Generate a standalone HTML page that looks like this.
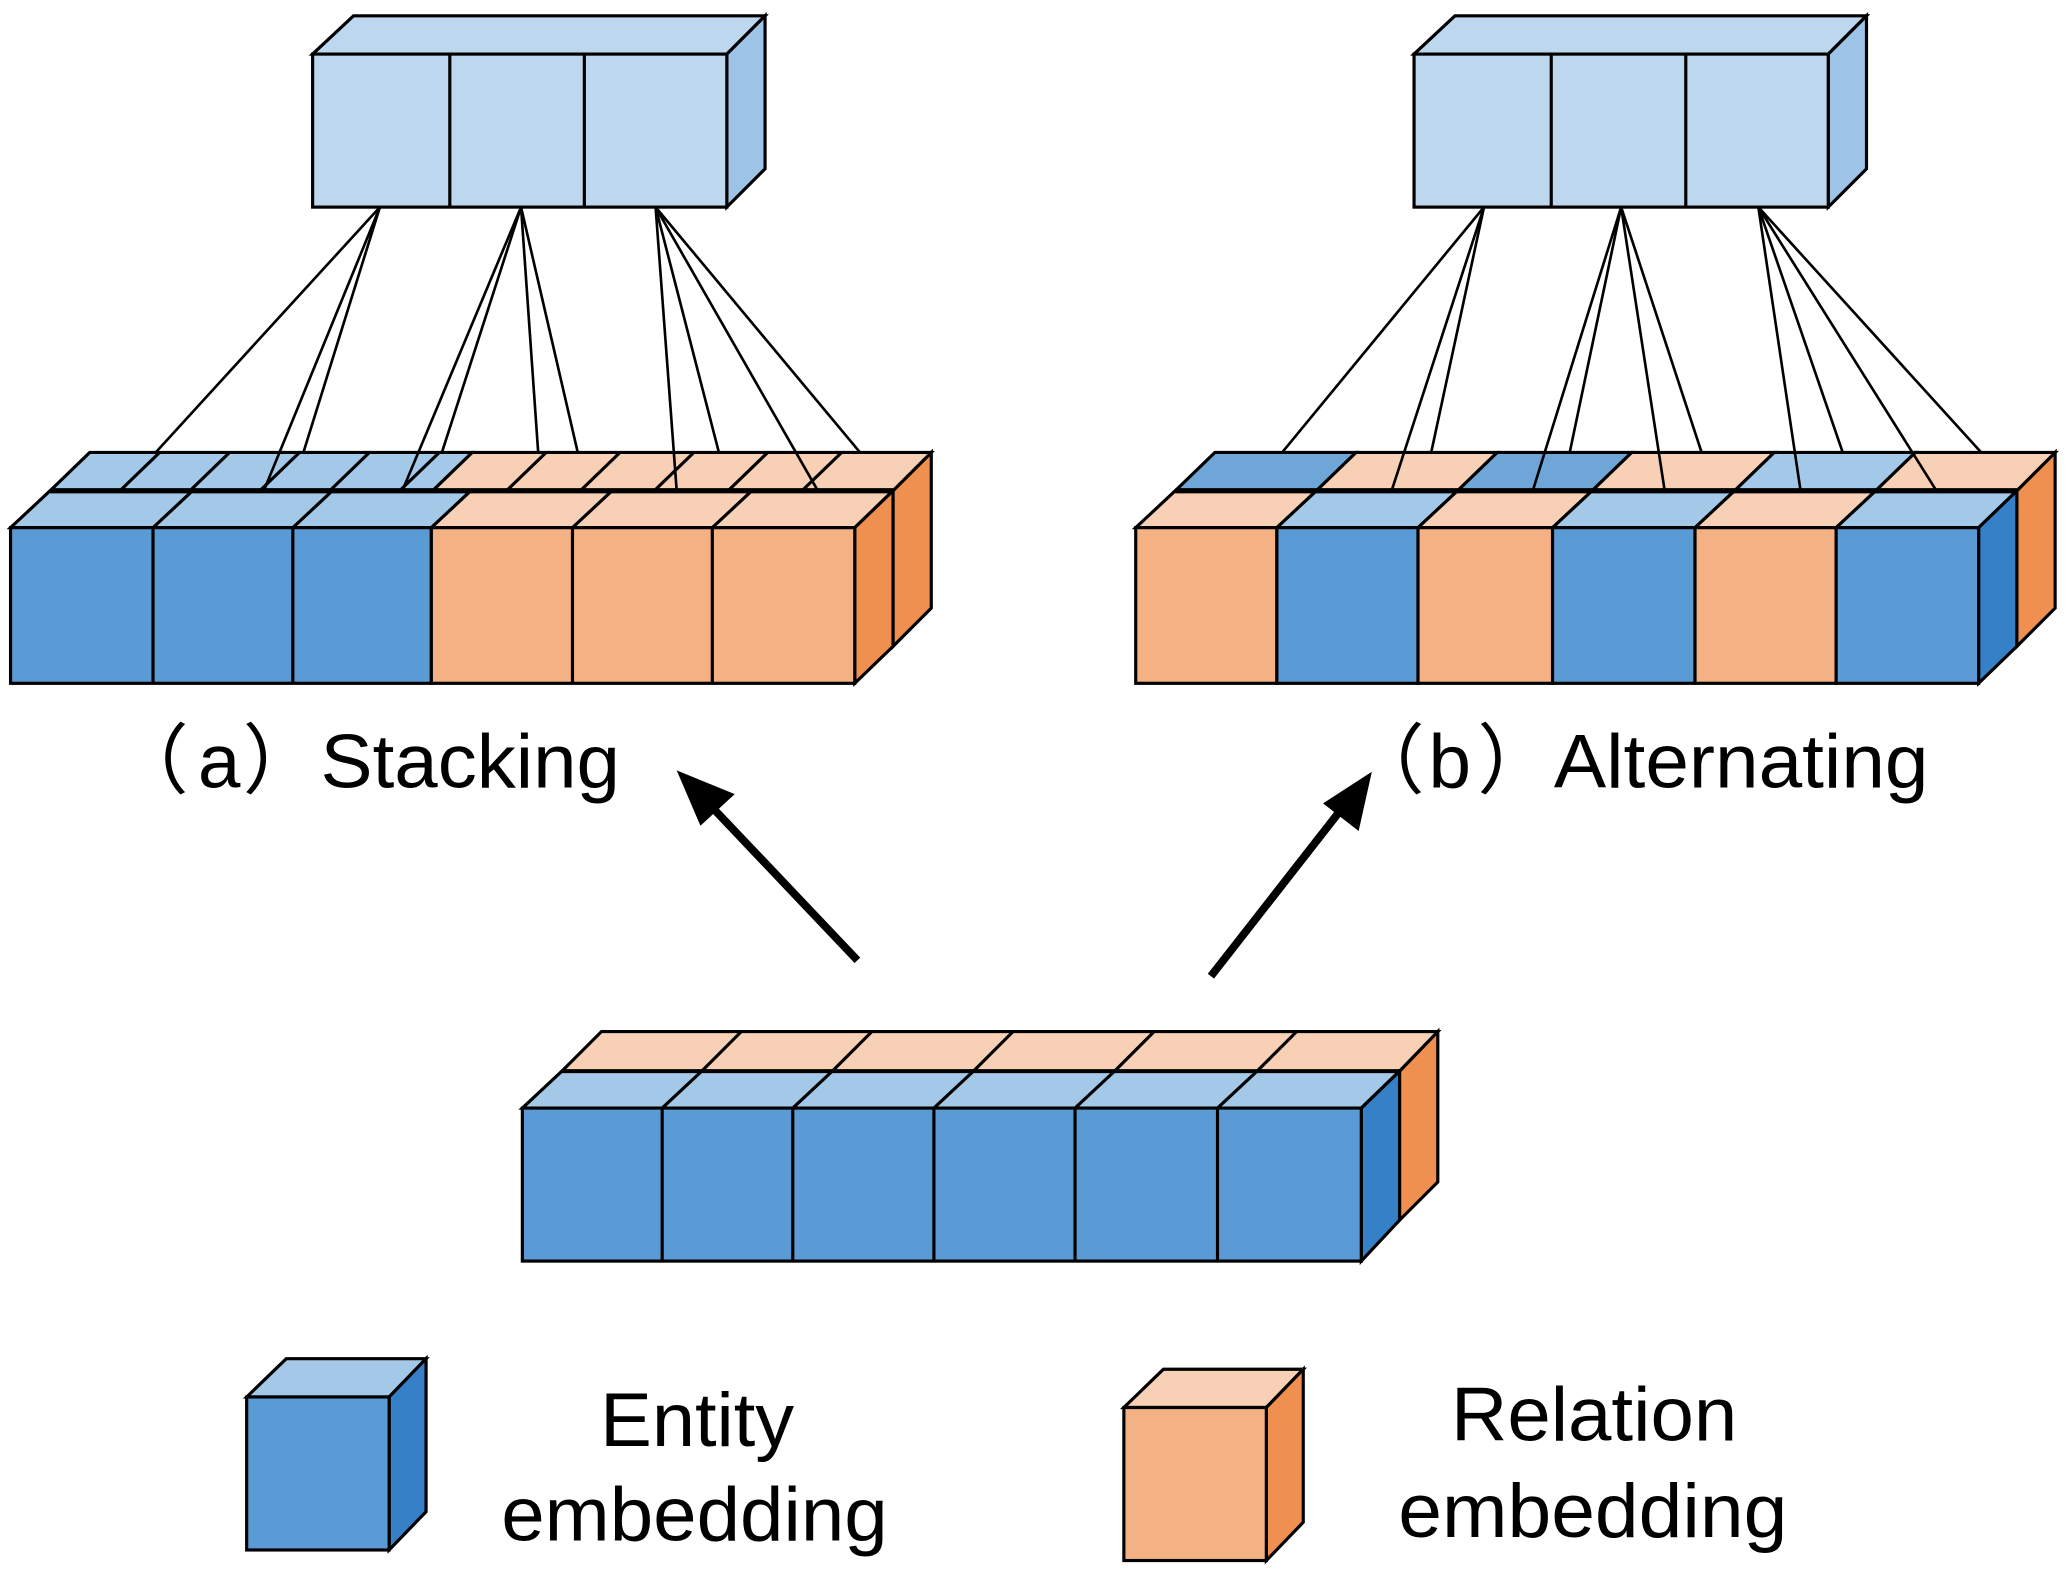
<!DOCTYPE html>
<html><head><meta charset="utf-8"><style>
html,body{margin:0;padding:0;background:#fff;}
svg{display:block;}
text{font-family:"Liberation Sans","Noto Sans CJK SC",sans-serif;fill:#000;}
</style></head><body>
<svg width="2067" height="1579" viewBox="0 0 1567 1197" preserveAspectRatio="none" xmlns="http://www.w3.org/2000/svg">
<g stroke="#000" stroke-width="2.4" stroke-linejoin="miter">
<polygon points="237,41 268,12 580,12 551,41" fill="#bdd7ee"/>
<polygon points="551,41 580,12 580,128 551,157" fill="#9dc3e6"/>
<rect x="237" y="41" width="314" height="116" fill="#bdd7ee"/>
<line x1="341" y1="41" x2="341" y2="157"/><line x1="443" y1="41" x2="443" y2="157"/>
<polygon points="1072,41 1103,12 1415,12 1386,41" fill="#bdd7ee"/>
<polygon points="1386,41 1415,12 1415,128 1386,157" fill="#9dc3e6"/>
<rect x="1072" y="41" width="314" height="116" fill="#bdd7ee"/>
<line x1="1176" y1="41" x2="1176" y2="157"/><line x1="1278" y1="41" x2="1278" y2="157"/>

<polygon points="677,372 706,343 706,461 677,490" fill="#f09050"/>
<polygon points="38,372 68,343 358,343 328,372" fill="#a4c8e8"/>
<polygon points="328,372 358,343 706,343 677,372" fill="#f8d0b6"/>
<line x1="91" y1="372" x2="121" y2="343"/><line x1="144" y1="372" x2="174" y2="343"/>
<line x1="197" y1="372" x2="227" y2="343"/><line x1="250" y1="372" x2="280" y2="343"/>
<line x1="303" y1="372" x2="333" y2="343"/><line x1="384" y1="372" x2="414" y2="343"/>
<line x1="440" y1="372" x2="470" y2="343"/><line x1="496" y1="372" x2="526" y2="343"/>
<line x1="552" y1="372" x2="582" y2="343"/><line x1="608" y1="372" x2="638" y2="343"/>
<polygon points="8,400 38,372 357,372 327,400" fill="#a4c8e8"/>
<polygon points="327,400 357,372 677,372 648,400" fill="#f8d0b6"/>
<line x1="116" y1="400" x2="146" y2="372"/><line x1="222" y1="400" x2="252" y2="372"/>
<line x1="434" y1="400" x2="464" y2="372"/><line x1="540" y1="400" x2="570" y2="372"/>
<polygon points="648,400 677,372 677,490 648,518" fill="#f09050"/>
<rect x="8" y="400" width="319" height="118" fill="#5b9bd5"/>
<rect x="327" y="400" width="321" height="118" fill="#f4b183"/>
<line x1="116" y1="400" x2="116" y2="518"/><line x1="222" y1="400" x2="222" y2="518"/>
<line x1="434" y1="400" x2="434" y2="518"/><line x1="540" y1="400" x2="540" y2="518"/>
<line x1="38" y1="372" x2="677" y2="372" stroke-width="4"/>

<polygon points="1529,372 1558,343 1558,461 1529,490" fill="#f09050"/>
<polygon points="891,372 921,343 1028,343 998,372" fill="#6ea6d8"/>
<polygon points="998,372 1028,343 1135,343 1105,372" fill="#f8d0b6"/>
<polygon points="1105,372 1135,343 1237,343 1207,372" fill="#6ea6d8"/>
<polygon points="1207,372 1237,343 1345,343 1315,372" fill="#f8d0b6"/>
<polygon points="1315,372 1345,343 1452,343 1422,372" fill="#a4c8e8"/>
<polygon points="1422,372 1452,343 1558,343 1529,372" fill="#f8d0b6"/>
<polygon points="861,400 891,372 998,372 968,400" fill="#f8d0b6"/>
<polygon points="968,400 998,372 1105,372 1075,400" fill="#a4c8e8"/>
<polygon points="1075,400 1105,372 1207,372 1177,400" fill="#f8d0b6"/>
<polygon points="1177,400 1207,372 1315,372 1285,400" fill="#a4c8e8"/>
<polygon points="1285,400 1315,372 1422,372 1392,400" fill="#f8d0b6"/>
<polygon points="1392,400 1422,372 1529,372 1500,400" fill="#a4c8e8"/>
<polygon points="1500,400 1529,372 1529,490 1500,518" fill="#3580c6"/>
<rect x="861" y="400" width="107" height="118" fill="#f4b183"/>
<rect x="968" y="400" width="107" height="118" fill="#5b9bd5"/>
<rect x="1075" y="400" width="102" height="118" fill="#f4b183"/>
<rect x="1177" y="400" width="108" height="118" fill="#5b9bd5"/>
<rect x="1285" y="400" width="107" height="118" fill="#f4b183"/>
<rect x="1392" y="400" width="108" height="118" fill="#5b9bd5"/>
<line x1="891" y1="372" x2="1529" y2="372" stroke-width="4"/>

<g stroke-width="2">
<line x1="288" y1="157" x2="118" y2="343"/><line x1="288" y1="157" x2="200" y2="372"/><line x1="288" y1="157" x2="230" y2="343"/>
<line x1="395" y1="157" x2="305" y2="372"/><line x1="395" y1="157" x2="335" y2="343"/><line x1="395" y1="157" x2="408" y2="343"/><line x1="395" y1="157" x2="438" y2="343"/>
<line x1="497" y1="157" x2="513" y2="372"/><line x1="497" y1="157" x2="545" y2="343"/><line x1="497" y1="157" x2="620" y2="372"/><line x1="497" y1="157" x2="652" y2="343"/>
<line x1="1125" y1="157" x2="972" y2="343"/><line x1="1125" y1="157" x2="1055" y2="372"/><line x1="1125" y1="157" x2="1085" y2="343"/>
<line x1="1229" y1="157" x2="1162" y2="372"/><line x1="1229" y1="157" x2="1190" y2="343"/><line x1="1229" y1="157" x2="1262" y2="372"/><line x1="1229" y1="157" x2="1290" y2="343"/>
<line x1="1333" y1="157" x2="1365" y2="372"/><line x1="1333" y1="157" x2="1397" y2="343"/><line x1="1333" y1="157" x2="1468" y2="372"/><line x1="1333" y1="157" x2="1502" y2="343"/>
</g>

<polygon points="1061,812 1090,782 1090,896 1061,925" fill="#f09050"/>
<polygon points="426,812 456,782 1090,782 1061,812" fill="#f8d0b6"/>
<line x1="532" y1="812" x2="562" y2="782"/><line x1="631" y1="812" x2="661" y2="782"/><line x1="738" y1="812" x2="768" y2="782"/><line x1="845" y1="812" x2="875" y2="782"/><line x1="953" y1="812" x2="983" y2="782"/>
<polygon points="396,840 426,812 1061,812 1032,840" fill="#a4c8e8"/>
<line x1="502" y1="840" x2="532" y2="812"/><line x1="601" y1="840" x2="631" y2="812"/><line x1="708" y1="840" x2="738" y2="812"/><line x1="815" y1="840" x2="845" y2="812"/><line x1="923" y1="840" x2="953" y2="812"/>
<polygon points="1032,840 1061,812 1061,925 1032,956" fill="#3580c6"/>
<rect x="396" y="840" width="636" height="116" fill="#5b9bd5"/>
<line x1="502" y1="840" x2="502" y2="956"/><line x1="601" y1="840" x2="601" y2="956"/><line x1="708" y1="840" x2="708" y2="956"/><line x1="815" y1="840" x2="815" y2="956"/><line x1="923" y1="840" x2="923" y2="956"/>
<line x1="426" y1="812" x2="1061" y2="812" stroke-width="3"/>

<polygon points="187,1059 217,1030 323,1030 295,1059" fill="#a4c8e8"/>
<polygon points="295,1059 323,1030 323,1146 295,1175" fill="#3580c6"/>
<rect x="187" y="1059" width="108" height="116" fill="#5b9bd5"/>
<polygon points="852,1067 882,1038 988,1038 960,1067" fill="#f8d0b6"/>
<polygon points="960,1067 988,1038 988,1154 960,1183" fill="#f09050"/>
<rect x="852" y="1067" width="108" height="116" fill="#f4b183"/>
</g>

<g stroke="#000" stroke-width="6" fill="#000">
<line x1="650" y1="728" x2="538" y2="610"/>
<line x1="918" y1="740" x2="1018" y2="612"/>
</g>
<polygon points="513,584 557,602 531,626" fill="#000"/>
<polygon points="1040,585 1030,630 1003,609" fill="#000"/>

<text x="85" y="597" font-size="58">（</text>
<text x="150" y="597" font-size="58">a</text>
<text x="184" y="597" font-size="58">）</text>
<text x="243" y="597" font-size="58" textLength="227" lengthAdjust="spacingAndGlyphs">Stacking</text>
<text x="1022" y="597" font-size="58">（</text>
<text x="1083" y="597" font-size="58">b</text>
<text x="1120" y="597" font-size="58">）</text>
<text x="1178" y="597" font-size="58" textLength="284" lengthAdjust="spacingAndGlyphs">Alternating</text>
<text x="455" y="1096" font-size="58" textLength="147" lengthAdjust="spacingAndGlyphs">Entity</text>
<text x="380" y="1168" font-size="58" textLength="293" lengthAdjust="spacingAndGlyphs">embedding</text>
<text x="1100" y="1092" font-size="58" textLength="217" lengthAdjust="spacingAndGlyphs">Relation</text>
<text x="1060" y="1165" font-size="58" textLength="295" lengthAdjust="spacingAndGlyphs">embedding</text>
</svg>
</body></html>
